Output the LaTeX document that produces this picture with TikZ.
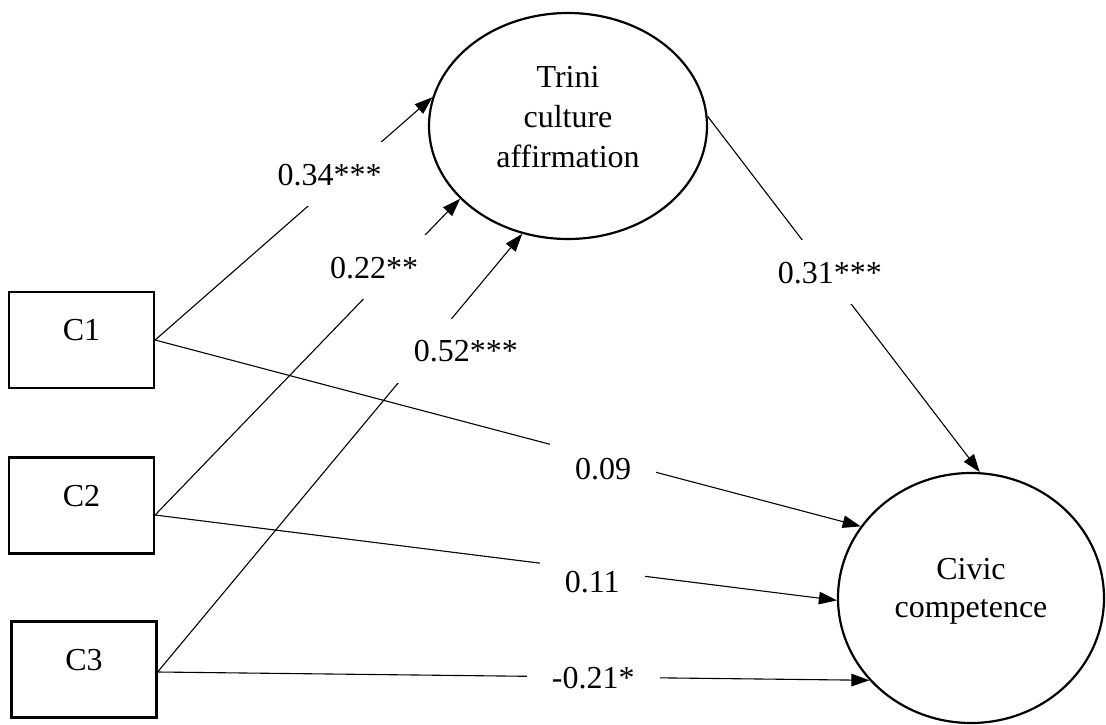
\documentclass[tikz,border=0pt]{standalone}
\usepackage{fontspec}
\setmainfont{Liberation Serif}
\usetikzlibrary{arrows.meta,shapes.geometric}
\begin{document}
\begin{tikzpicture}[x=1pt,y=-1pt,
  every node/.style={font=\fontsize{32}{40}\selectfont},
  varbox/.style={draw,line width=2.2pt,minimum width=145pt,minimum height=96pt,inner sep=0pt,text height=22pt,text depth=21pt},
  latent/.style={draw,ellipse,line width=2.2pt,inner sep=0pt},
  arr/.style={line width=1.1pt,-{Triangle[length=18pt,width=12.5pt]}},
  lbl/.style={fill=white,inner xsep=25pt,inner ysep=21pt,text height=22pt,text depth=0pt}
]
\useasboundingbox (0,0) rectangle (1106,725);

\node[varbox] (c1) at (81.5,340) {C1};
\node[varbox] (c2) at (81.5,505.5) {C2};
\node[varbox] (c3) at (84,669.5) {C3};

\node[latent,minimum width=278pt,minimum height=226pt] (trini) at (568,126) {};
\node[align=center] (trinitext) at ([yshift=9pt]trini.center) {Trini\\culture\\affirmation};

\node[latent,minimum width=266pt,minimum height=250pt] (civic) at (971,598) {};
\node[align=center,font=\fontsize{32}{38}\selectfont] (civictext) at ([yshift=6.5pt]civic.center) {Civic\\competence};

\draw[arr] (c1.east) -- node[lbl,pos=0.629,yshift=13pt] {0.34***} (trini.168.7);
\draw[arr] ([yshift=-9.5pt]c2.east) -- node[lbl,pos=0.718,yshift=20.5pt] {0.22**} (trini.214.4);
\draw[arr] ([yshift=-2.5pt]c3.east) -- node[lbl,pos=0.733,xshift=41pt] {0.52***} (trini.247.9);
\draw[arr] (trini.4.5) -- node[lbl,pos=0.4385,xshift=3pt] {0.31***} (civic.86);
\draw[arr] (c1.east) -- node[lbl,pos=0.635,yshift=-10.4pt] {0.09} (civic.147.8);
\draw[arr] ([yshift=-9.5pt]c2.east) -- node[lbl,pos=0.641,yshift=-12pt] {0.11} (civic.181.3);
\draw[arr] ([yshift=-2.5pt]c3.east) -- node[lbl,pos=0.612] {-0.21*} (civic.219.8);
\end{tikzpicture}
\end{document}
